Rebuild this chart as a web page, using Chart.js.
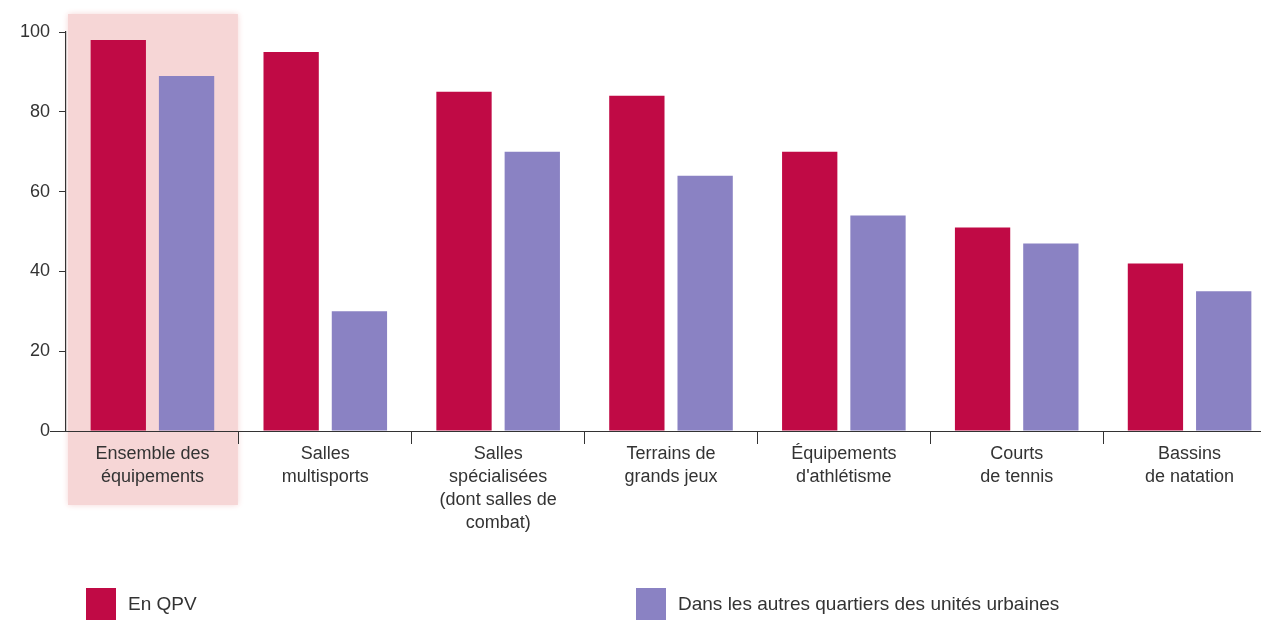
<!DOCTYPE html>
<html>
<head>
<meta charset="utf-8">
<script src="https://cdn.jsdelivr.net/npm/chart.js@4"></script>
<style>
  html, body { margin: 0; padding: 0; background: #fff; }
  #wrap { position: relative; width: 1279px; height: 630px; }
  .legend { position: absolute; top: 588px; display: flex; align-items: center;
            font-family: "Liberation Sans", sans-serif; font-size: 19px; color: #333; }
  .legend span.box { display: inline-block; width: 30px; height: 32px; margin-right: 12px; }
</style>
</head>
<body>
<div id="wrap">
  <canvas id="chart" width="1279" height="630"></canvas>
  <div class="legend" style="left:86px"><span class="box" style="background:#c00a45"></span>En QPV</div>
  <div class="legend" style="left:636px"><span class="box" style="background:#8a82c3"></span>Dans les autres quartiers des unités urbaines</div>
</div>
<script>
const categories = [
    ['Ensemble des', 'équipements'],
    ['Salles', 'multisports'],
    ['Salles', 'spécialisées', '(dont salles de', 'combat)'],
    ['Terrains de', 'grands jeux'],
    ['Équipements', 'd\'athlétisme'],
    ['Courts', 'de tennis'],
    ['Bassins', 'de natation']
];
const qpvValues = [98, 95, 85, 84, 70, 51, 42];
const autresValues = [89, 30, 70, 64, 54, 47, 35];
const yTicks = [0, 20, 40, 60, 80, 100];

const fontFamily = '"Liberation Sans", sans-serif';
const textColor = '#333';

// pink band behind the first category, drawn before scales
const highlightPlugin = {
    id: 'highlight',
    beforeDraw(chart) {
        const x = chart.scales.x;
        const area = chart.chartArea;
        const half = (area.right - area.left) / categories.length / 2;
        const cx = x.getPixelForValue(0);
        const ctx = chart.ctx;
        ctx.save();
        ctx.fillStyle = '#f6d6d6';
        ctx.shadowColor = '#f6d6d6';
        ctx.shadowBlur = 6;
        ctx.fillRect(cx - half + 2, area.top - 18, half * 2 - 3, 491);
        ctx.restore();
    },
    afterDraw(chart) {
        // x axis line: starts left of the y axis, stops before the right edge
        const area = chart.chartArea;
        const ctx = chart.ctx;
        ctx.save();
        ctx.strokeStyle = '#333';
        ctx.lineWidth = 1.2;
        ctx.beginPath();
        ctx.moveTo(50, area.bottom + 0.5);
        ctx.lineTo(1261, area.bottom + 0.5);
        ctx.stroke();
        ctx.restore();
    }
};

const innerTick = ctx => (ctx.type === 'tick' && ctx.index > 0) ? '#333' : 'rgba(0,0,0,0)';

new Chart(document.getElementById('chart'), {
    type: 'bar',
    data: {
        labels: categories,
        datasets: [
            {
                label: 'En QPV',
                data: qpvValues,
                backgroundColor: '#c00a45'
            },
            {
                label: 'Dans les autres quartiers des unités urbaines',
                data: autresValues,
                backgroundColor: '#8a82c3'
            }
        ]
    },
    options: {
        responsive: false,
        animation: false,
        categoryPercentage: 0.79,
        barPercentage: 0.81,
        layout: { padding: { top: 32, right: 3, left: 0, bottom: 0 } },
        scales: {
            x: {
                afterFit: s => { s.height = 199; },
                border: { display: false },
                grid: {
                    offset: true,
                    drawOnChartArea: false,
                    tickLength: 13,
                    color: innerTick,
                    tickColor: innerTick
                },
                ticks: {
                    color: textColor,
                    padding: -1,
                    maxRotation: 0,
                    autoSkip: false,
                    font: { family: fontFamily, size: 18, lineHeight: 1.27 }
                }
            },
            y: {
                min: 0,
                max: 100,
                afterFit: s => { s.width = 66; },
                afterBuildTicks: s => { s.ticks = yTicks.map(v => ({ value: v })); },
                border: { color: '#333', width: 1.2 },
                grid: {
                    drawOnChartArea: false,
                    tickLength: 7,
                    color: '#333'
                },
                ticks: {
                    color: textColor,
                    padding: 9,
                    font: { family: fontFamily, size: 18 }
                }
            }
        },
        plugins: {
            legend: { display: false },
            tooltip: { enabled: false }
        }
    },
    plugins: [highlightPlugin]
});
</script>
</body>
</html>
